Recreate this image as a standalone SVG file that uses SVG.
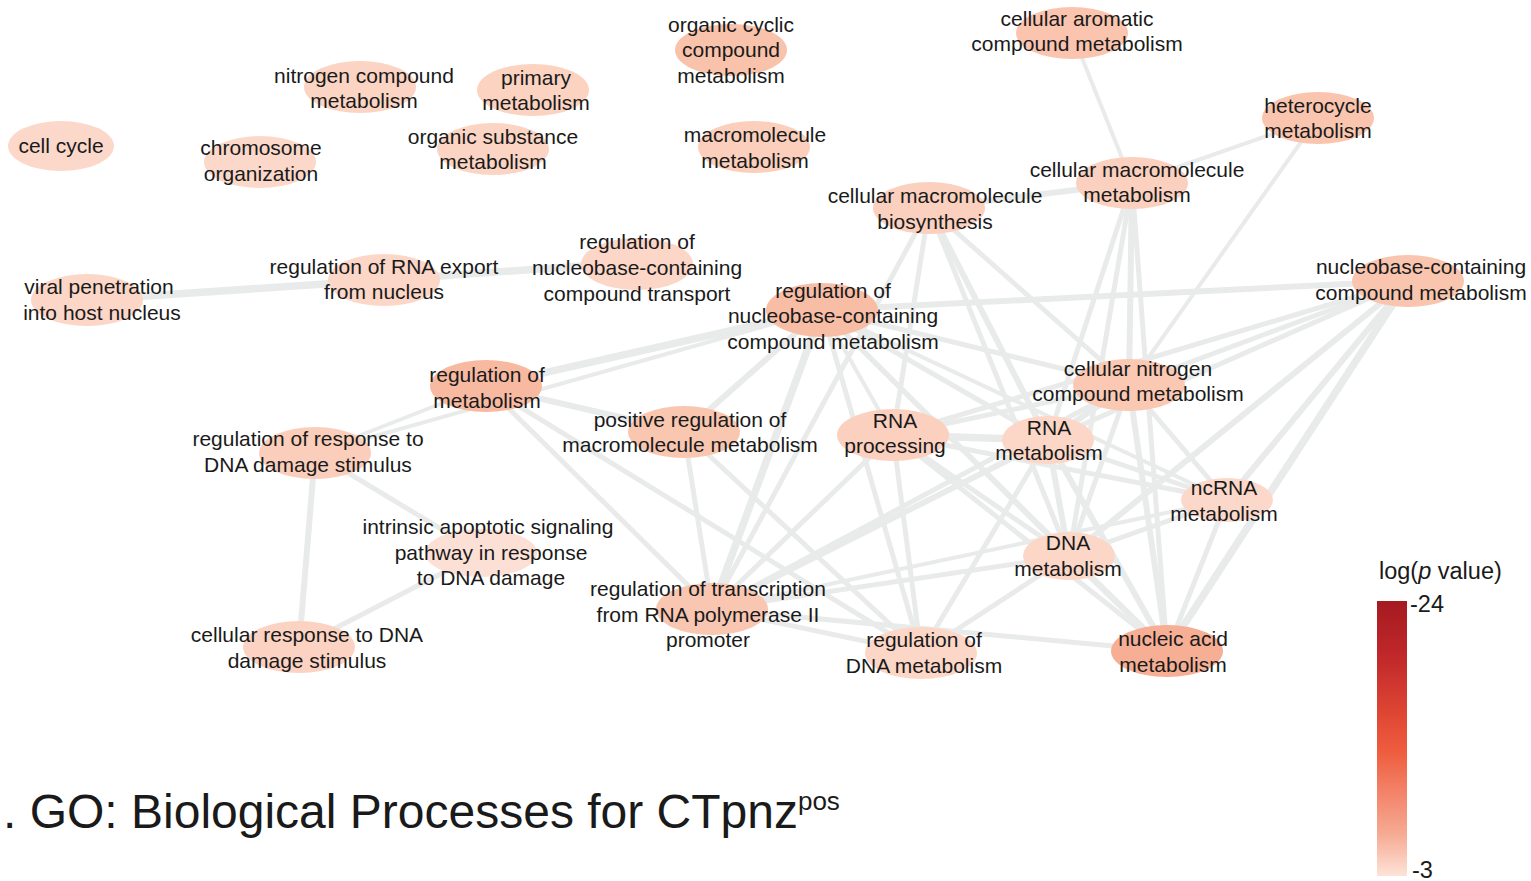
<svg xmlns="http://www.w3.org/2000/svg" width="1531" height="881" viewBox="0 0 1531 881">
  <style>
    .lbl { font-family: "Liberation Sans", Arial, sans-serif; font-size: 21px; fill: #1a1a1a; text-anchor: middle; }
    .e { stroke: #e9ebea; stroke-linecap: butt; fill: none; }
    .w4 { stroke-width: 4; }
    .w5 { stroke-width: 5; }
    .w6 { stroke-width: 6; }
    .w7 { stroke-width: 7.5; }
    .title { font-family: "Liberation Sans", Arial, sans-serif; font-size: 48px; fill: #1a1a1a; }
    .leg { font-family: "Liberation Sans", Arial, sans-serif; font-size: 23.5px; fill: #1a1a1a; }
  </style>
  <defs>
    <linearGradient id="pscale" x1="0" y1="0" x2="0" y2="1">
      <stop offset="0" stop-color="#a51a21"/>
      <stop offset="0.2" stop-color="#c0282a"/>
      <stop offset="0.42" stop-color="#e04834"/>
      <stop offset="0.55" stop-color="#ef5d3f"/>
      <stop offset="0.7" stop-color="#f3846a"/>
      <stop offset="0.85" stop-color="#f6ab94"/>
      <stop offset="1" stop-color="#fde3d8"/>
    </linearGradient>
  </defs>
  <rect width="1531" height="881" fill="#ffffff"/>

  <!-- edges -->
  <g id="edges">
    <line class="e w7" x1="87" y1="300" x2="384" y2="280"/>
    <line class="e w7" x1="384" y1="280" x2="637" y2="262"/>
    <line class="e w6" x1="315" y1="453" x2="299" y2="647"/>
    <line class="e w5" x1="315" y1="453" x2="481" y2="553"/>
    <line class="e w5" x1="299" y1="647" x2="481" y2="553"/>
    <line class="e w4" x1="315" y1="453" x2="486" y2="386"/>
    <line class="e w4" x1="315" y1="453" x2="822" y2="310"/>
    <line class="e w7" x1="486" y1="386" x2="822" y2="310"/>
    <line class="e w6" x1="486" y1="386" x2="684" y2="432"/>
    <line class="e w5" x1="486" y1="386" x2="712" y2="609"/>
    <line class="e w5" x1="486" y1="386" x2="921" y2="653"/>
    <line class="e w6" x1="684" y1="432" x2="822" y2="310"/>
    <line class="e w5" x1="684" y1="432" x2="712" y2="609"/>
    <line class="e w5" x1="684" y1="432" x2="921" y2="653"/>

    <line class="e w4" x1="1072" y1="33" x2="1132" y2="183"/>
    <line class="e w4" x1="1318" y1="118" x2="1132" y2="183"/>
    <line class="e w4" x1="1318" y1="118" x2="1129" y2="385"/>
    <line class="e w6" x1="929" y1="208" x2="1132" y2="183"/>
    <line class="e w5" x1="1132" y1="183" x2="1048" y2="440"/>
    <line class="e w5" x1="1132" y1="183" x2="1069" y2="556"/>
    <line class="e w6" x1="1132" y1="183" x2="1129" y2="385"/>
    <line class="e w5" x1="1132" y1="183" x2="1167" y2="651"/>
    <line class="e w5" x1="929" y1="208" x2="893" y2="435"/>
    <line class="e w6" x1="929" y1="208" x2="1048" y2="440"/>
    <line class="e w5" x1="929" y1="208" x2="1069" y2="556"/>
    <line class="e w5" x1="929" y1="208" x2="1129" y2="385"/>
    <line class="e w5" x1="929" y1="208" x2="712" y2="609"/>

    <line class="e w6" x1="822" y1="310" x2="1408" y2="281"/>
    <line class="e w7" x1="822" y1="310" x2="712" y2="609"/>
    <line class="e w5" x1="822" y1="310" x2="921" y2="653"/>
    <line class="e w4" x1="822" y1="310" x2="893" y2="435"/>
    <line class="e w5" x1="822" y1="310" x2="1048" y2="440"/>
    <line class="e w5" x1="822" y1="310" x2="1129" y2="385"/>
    <line class="e w5" x1="822" y1="310" x2="1069" y2="556"/>
    <line class="e w5" x1="822" y1="310" x2="1167" y2="651"/>
    <line class="e w4" x1="822" y1="310" x2="1227" y2="500"/>

    <line class="e w7" x1="893" y1="435" x2="1048" y2="440"/>
    <line class="e w5" x1="893" y1="435" x2="1227" y2="500"/>
    <line class="e w5" x1="893" y1="435" x2="1069" y2="556"/>
    <line class="e w5" x1="893" y1="435" x2="1167" y2="651"/>
    <line class="e w5" x1="893" y1="435" x2="712" y2="609"/>
    <line class="e w5" x1="893" y1="435" x2="921" y2="653"/>
    <line class="e w5" x1="893" y1="435" x2="1129" y2="385"/>
    <line class="e w5" x1="893" y1="435" x2="1408" y2="281"/>

    <line class="e w6" x1="1048" y1="440" x2="1129" y2="385"/>
    <line class="e w5" x1="1048" y1="440" x2="1227" y2="500"/>
    <line class="e w6" x1="1048" y1="440" x2="1069" y2="556"/>
    <line class="e w6" x1="1048" y1="440" x2="1167" y2="651"/>
    <line class="e w5" x1="1048" y1="440" x2="921" y2="653"/>
    <line class="e w6" x1="1048" y1="440" x2="712" y2="609"/>
    <line class="e w5" x1="1048" y1="440" x2="1408" y2="281"/>

    <line class="e w5" x1="1129" y1="385" x2="1227" y2="500"/>
    <line class="e w5" x1="1129" y1="385" x2="1069" y2="556"/>
    <line class="e w6" x1="1129" y1="385" x2="1167" y2="651"/>
    <line class="e w5" x1="1129" y1="385" x2="1408" y2="281"/>
    <line class="e w5" x1="1129" y1="385" x2="712" y2="609"/>

    <line class="e w5" x1="1227" y1="500" x2="1069" y2="556"/>
    <line class="e w5" x1="1227" y1="500" x2="1167" y2="651"/>
    <line class="e w6" x1="1227" y1="500" x2="1408" y2="281"/>
    <line class="e w4" x1="1227" y1="500" x2="712" y2="609"/>

    <line class="e w6" x1="1069" y1="556" x2="1167" y2="651"/>
    <line class="e w5" x1="1069" y1="556" x2="921" y2="653"/>
    <line class="e w5" x1="1069" y1="556" x2="712" y2="609"/>
    <line class="e w6" x1="1069" y1="556" x2="1408" y2="281"/>

    <line class="e w7" x1="1167" y1="651" x2="1408" y2="281"/>
    <line class="e w5" x1="1167" y1="651" x2="712" y2="609"/>
    <line class="e w5" x1="712" y1="609" x2="921" y2="653"/>
  </g>

  <!-- nodes -->
  <g id="n-cell-cycle">
    <ellipse cx="61" cy="146" rx="53" ry="25" fill="#fcd8ca"/>
    <text class="lbl"><tspan x="61" y="153">cell cycle</tspan></text>
  </g>
  <g id="n-nitrogen-compound-metabolism">
    <ellipse cx="360" cy="87" rx="56" ry="26" fill="#fcd4c3"/>
    <text class="lbl"><tspan x="364" y="83">nitrogen compound</tspan><tspan x="364" y="108">metabolism</tspan></text>
  </g>
  <g id="n-primary-metabolism">
    <ellipse cx="533" cy="90" rx="56" ry="26" fill="#fcd2c1"/>
    <text class="lbl"><tspan x="536" y="85">primary</tspan><tspan x="536" y="110">metabolism</tspan></text>
  </g>
  <g id="n-organic-cyclic">
    <ellipse cx="731" cy="50" rx="56" ry="26" fill="#f9c2ab"/>
    <text class="lbl"><tspan x="731" y="32">organic cyclic</tspan><tspan x="731" y="57">compound</tspan><tspan x="731" y="83">metabolism</tspan></text>
  </g>
  <g id="n-cellular-aromatic">
    <ellipse cx="1072" cy="33" rx="56" ry="26" fill="#fac4ae"/>
    <text class="lbl"><tspan x="1077" y="26">cellular aromatic</tspan><tspan x="1077" y="51">compound metabolism</tspan></text>
  </g>
  <g id="n-chromosome-organization">
    <ellipse cx="260" cy="162" rx="56" ry="26" fill="#fcd8ca"/>
    <text class="lbl"><tspan x="261" y="155">chromosome</tspan><tspan x="261" y="181">organization</tspan></text>
  </g>
  <g id="n-organic-substance">
    <ellipse cx="493" cy="149" rx="56" ry="26" fill="#fcd4c3"/>
    <text class="lbl"><tspan x="493" y="144">organic substance</tspan><tspan x="493" y="169">metabolism</tspan></text>
  </g>
  <g id="n-macromolecule-metabolism">
    <ellipse cx="754" cy="147" rx="56" ry="26" fill="#fbcfbc"/>
    <text class="lbl"><tspan x="755" y="142">macromolecule</tspan><tspan x="755" y="168">metabolism</tspan></text>
  </g>
  <g id="n-heterocycle">
    <ellipse cx="1318" cy="118" rx="56" ry="26" fill="#fac5ae"/>
    <text class="lbl"><tspan x="1318" y="113">heterocycle</tspan><tspan x="1318" y="138">metabolism</tspan></text>
  </g>
  <g id="n-cell-macromol-metabolism">
    <ellipse cx="1132" cy="183" rx="56" ry="26" fill="#fbd0be"/>
    <text class="lbl"><tspan x="1137" y="177">cellular macromolecule</tspan><tspan x="1137" y="202">metabolism</tspan></text>
  </g>
  <g id="n-cell-macromol-biosynthesis">
    <ellipse cx="929" cy="208" rx="56" ry="26" fill="#fbd0be"/>
    <text class="lbl"><tspan x="935" y="203">cellular macromolecule</tspan><tspan x="935" y="229">biosynthesis</tspan></text>
  </g>
  <g id="n-viral-penetration">
    <ellipse cx="87" cy="300" rx="56" ry="26" fill="#fcd6c7"/>
    <text class="lbl"><tspan x="99" y="294">viral penetration</tspan><tspan x="102" y="320">into host nucleus</tspan></text>
  </g>
  <g id="n-reg-rna-export">
    <ellipse cx="384" cy="280" rx="56" ry="26" fill="#fcd6c7"/>
    <text class="lbl"><tspan x="384" y="274">regulation of RNA export</tspan><tspan x="384" y="299">from nucleus</tspan></text>
  </g>
  <g id="n-reg-nucleobase-transport">
    <ellipse cx="637" cy="264" rx="56" ry="26" fill="#fcd6c7"/>
    <text class="lbl"><tspan x="637" y="249">regulation of</tspan><tspan x="637" y="275">nucleobase-containing</tspan><tspan x="637" y="301">compound transport</tspan></text>
  </g>
  <g id="n-nucleobase-metabolism">
    <ellipse cx="1408" cy="281" rx="56" ry="26" fill="#f9c5ae"/>
    <text class="lbl"><tspan x="1421" y="274">nucleobase-containing</tspan><tspan x="1421" y="300">compound metabolism</tspan></text>
  </g>
  <g id="n-reg-nucleobase-metabolism">
    <ellipse cx="822" cy="310" rx="56" ry="27" fill="#f8bda5"/>
    <text class="lbl"><tspan x="833" y="298">regulation of</tspan><tspan x="833" y="323">nucleobase-containing</tspan><tspan x="833" y="349">compound metabolism</tspan></text>
  </g>
  <g id="n-reg-metabolism">
    <ellipse cx="486" cy="386" rx="56" ry="26" fill="#f8b9a1"/>
    <text class="lbl"><tspan x="487" y="382">regulation of</tspan><tspan x="487" y="408">metabolism</tspan></text>
  </g>
  <g id="n-reg-response-dna-damage">
    <ellipse cx="315" cy="453" rx="56" ry="26" fill="#fbcebb"/>
    <text class="lbl"><tspan x="308" y="446">regulation of response to</tspan><tspan x="308" y="472">DNA damage stimulus</tspan></text>
  </g>
  <g id="n-pos-reg-macromol">
    <ellipse cx="684" cy="432" rx="56" ry="26" fill="#f9c6b0"/>
    <text class="lbl"><tspan x="690" y="427">positive regulation of</tspan><tspan x="690" y="452">macromolecule metabolism</tspan></text>
  </g>
  <g id="n-rna-processing">
    <ellipse cx="893" cy="435" rx="56" ry="26" fill="#fbd0bf"/>
    <text class="lbl"><tspan x="895" y="428">RNA</tspan><tspan x="895" y="453">processing</tspan></text>
  </g>
  <g id="n-rna-metabolism">
    <ellipse cx="1048" cy="440" rx="46" ry="24" fill="#fcd6c6"/>
    <text class="lbl"><tspan x="1049" y="435">RNA</tspan><tspan x="1049" y="460">metabolism</tspan></text>
  </g>
  <g id="n-cellular-nitrogen">
    <ellipse cx="1129" cy="385" rx="56" ry="26" fill="#fac8b3"/>
    <text class="lbl"><tspan x="1138" y="376">cellular nitrogen</tspan><tspan x="1138" y="401">compound metabolism</tspan></text>
  </g>
  <g id="n-ncrna-metabolism">
    <ellipse cx="1227" cy="500" rx="46" ry="22" fill="#fcd8ca"/>
    <text class="lbl"><tspan x="1224" y="495">ncRNA</tspan><tspan x="1224" y="521">metabolism</tspan></text>
  </g>
  <g id="n-intrinsic-apoptotic">
    <ellipse cx="481" cy="553" rx="56" ry="24" fill="#fde0d5"/>
    <text class="lbl"><tspan x="488" y="534">intrinsic apoptotic signaling</tspan><tspan x="491" y="560">pathway in response</tspan><tspan x="491" y="585">to DNA damage</tspan></text>
  </g>
  <g id="n-dna-metabolism">
    <ellipse cx="1069" cy="556" rx="46" ry="24" fill="#fcd6c6"/>
    <text class="lbl"><tspan x="1068" y="550">DNA</tspan><tspan x="1068" y="576">metabolism</tspan></text>
  </g>
  <g id="n-reg-transcription">
    <ellipse cx="712" cy="609" rx="56" ry="26" fill="#f9c6b1"/>
    <text class="lbl"><tspan x="708" y="596">regulation of transcription</tspan><tspan x="708" y="622">from RNA polymerase II</tspan><tspan x="708" y="647">promoter</tspan></text>
  </g>
  <g id="n-cellular-response-dna-damage">
    <ellipse cx="299" cy="647" rx="56" ry="26" fill="#fcd3c2"/>
    <text class="lbl"><tspan x="307" y="642">cellular response to DNA</tspan><tspan x="307" y="668">damage stimulus</tspan></text>
  </g>
  <g id="n-reg-dna-metabolism">
    <ellipse cx="921" cy="653" rx="56" ry="26" fill="#fcd6c7"/>
    <text class="lbl"><tspan x="924" y="647">regulation of</tspan><tspan x="924" y="673">DNA metabolism</tspan></text>
  </g>
  <g id="n-nucleic-acid-metabolism">
    <ellipse cx="1167" cy="651" rx="56" ry="26" fill="#f6ae94"/>
    <text class="lbl"><tspan x="1173" y="646">nucleic acid</tspan><tspan x="1173" y="672">metabolism</tspan></text>
  </g>

  <!-- title -->
  <text class="title" x="3" y="828">. GO: Biological Processes for CTpnz<tspan font-size="26" dy="-18">pos</tspan></text>

  <!-- colour scale -->
  <g id="legend">
    <text class="leg" x="1379" y="579">log(<tspan font-style="italic">p</tspan> value)</text>
    <rect x="1377" y="601" width="30" height="275" fill="url(#pscale)"/>
    <text class="leg" x="1410" y="612">-24</text>
    <text class="leg" x="1412" y="878">-3</text>
  </g>
</svg>
